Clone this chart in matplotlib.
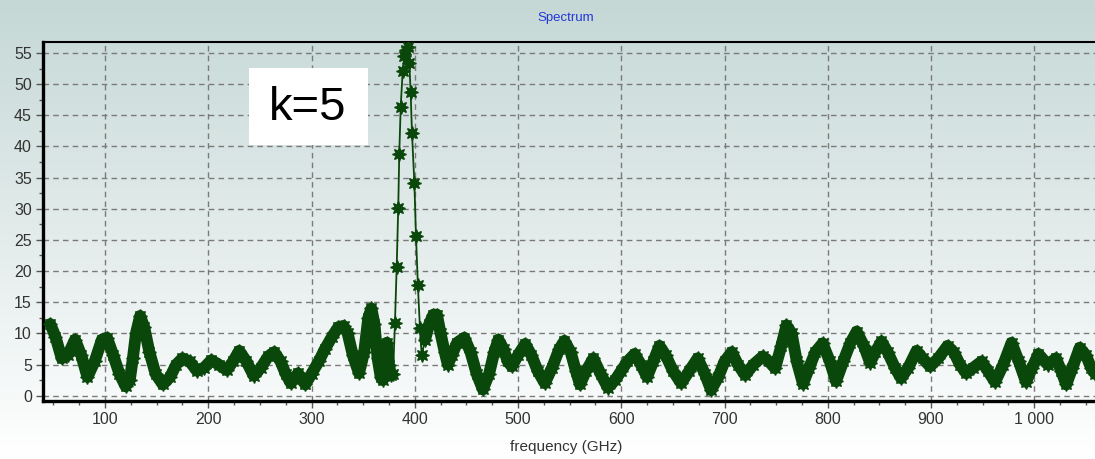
import numpy as np
import matplotlib as mpl
mpl.use('Agg')
import matplotlib.pyplot as plt
from matplotlib.patches import Rectangle
from matplotlib.ticker import MultipleLocator, FuncFormatter

# spectrum values (frequency in GHz, amplitude)
freq = [47, 52, 58, 64, 71, 77, 83, 90, 97, 102, 108, 114, 120, 124, 127, 130, 134, 138, 143, 149,
        156, 163, 169, 175, 182, 189, 196, 203, 210, 218, 224, 230, 237, 244, 251, 258, 264, 270, 275, 280,
        287, 294, 300, 307, 313, 320, 326, 331, 335, 340, 346, 351, 355, 358, 361, 364, 367, 369, 371, 373,
        375, 377, 379, 380.8, 382.5, 384, 385, 386.4, 388.3, 390, 391.5, 393.8, 394.7, 396, 397.3, 399.6,
        401.2, 403, 405, 406.7, 410, 414, 418, 421.5, 425, 429, 432, 436, 441, 448, 454, 460, 466, 472,
        477, 481, 486, 490, 494, 500, 507, 513, 519, 526, 533, 540, 545, 551, 556, 560, 566, 573, 580, 587,
        594, 600, 606, 613, 619, 625, 631, 637, 643, 650, 658, 666, 674, 681, 687, 694, 700, 707, 713, 720,
        728, 737, 743, 749, 755, 760, 765, 770, 776, 782, 788, 795, 802, 808, 815, 822, 828, 835, 841, 846,
        852, 858, 865, 871, 878, 886, 892, 899, 907, 916, 922, 928, 934, 941, 949, 955, 962, 970, 978, 985,
        992, 998, 1004, 1013, 1021, 1026, 1031, 1037, 1044, 1050, 1055, 1059]
amp = [11.5, 9.5, 6.0, 6.5, 9.0, 6.5, 3.0, 5.5, 9.0, 9.3, 6.5, 3.5, 1.5, 2.5, 6.0, 10.0, 12.8, 11.0, 7.0, 3.5,
       1.8, 3.0, 5.0, 6.0, 5.5, 4.0, 4.5, 5.7, 5.0, 4.1, 5.5, 7.2, 5.5, 3.2, 4.5, 6.3, 7.0, 5.5, 3.5, 2.0,
       3.6, 1.8, 3.5, 5.5, 7.5, 9.5, 11.0, 11.2, 10.0, 6.5, 3.6, 7.0, 12.5, 14.0, 11.5, 6.0, 3.0, 2.5, 6.5, 8.5,
       5.0, 3.3, 3.5, 11.6, 20.7, 30.1, 38.8, 46.4, 52.1, 54.5, 55.5, 56.0, 53.4, 48.8, 42.2, 34.2,
       25.6, 17.8, 10.9, 6.5, 9.0, 11.5, 13.0, 13.0, 10.0, 7.0, 5.0, 6.5, 8.5, 9.3, 7.0, 3.5, 1.0, 3.5,
       7.0, 9.0, 7.5, 5.5, 4.7, 6.5, 8.3, 6.5, 4.0, 2.0, 4.5, 7.5, 8.8, 7.0, 4.0, 1.8, 4.0, 6.0, 3.5, 1.3,
       2.5, 4.0, 5.5, 6.7, 5.0, 3.0, 5.5, 8.0, 6.5, 4.0, 2.0, 4.0, 6.0, 3.5, 0.9, 3.0, 5.5, 7.0, 5.0, 3.3,
       5.0, 6.3, 5.5, 4.4, 8.0, 11.3, 10.0, 5.5, 1.9, 4.5, 7.0, 8.4, 5.5, 2.3, 5.5, 8.5, 10.3, 8.0, 5.3, 7.0,
       8.7, 7.0, 4.5, 2.8, 4.5, 7.2, 6.0, 4.7, 6.0, 8.0, 7.0, 5.0, 3.6, 4.5, 5.5, 4.0, 2.2, 5.0, 8.5, 5.5,
       2.2, 4.5, 6.7, 5.0, 6.0, 4.0, 1.8, 4.5, 7.7, 6.5, 4.5, 3.5]

x_ticks = [100, 200, 300, 400, 500, 600, 700, 800, 900, 1000]
y_ticks = [0, 5, 10, 15, 20, 25, 30, 35, 40, 45, 50, 55]

green = '#0a470a'
W, H = 1095, 459
fig = plt.figure(figsize=(10.95, 4.59), dpi=100)

# background gradient over the whole picture
bg = fig.add_axes([0, 0, 1, 1], zorder=-10)
t = np.linspace(0, 1, 256)[:, None]
top = np.array([197, 216, 214]) / 255
bot = np.array([255, 255, 255]) / 255
grad = (top * (1 - t) + bot * t)[:, None, :].repeat(2, axis=1)
bg.imshow(grad, aspect='auto', extent=[0, 1, 0, 1])
bg.axis('off')

ax = fig.add_axes([43 / W, (H - 400.7) / H, 1 - 43 / W, (400.7 - 41.7) / H])
ax.set_facecolor('none')

f = np.array(freq, dtype=float)
a = np.array(amp, dtype=float)
# thick band where the samples are so dense they merge
band = np.where((f > 378) & (f < 409), np.nan, a)
ax.plot(f, band, color=green, lw=8.5, solid_joinstyle='round', solid_capstyle='round', zorder=3)
ax.plot(f, a, color=green, lw=1.3, marker=(8, 1, 0), ms=10, mfc=green, mec=green, zorder=4)

ax.set_xlim(39.96, 1058.8)
ax.set_ylim(-0.8, 56.8)
ax.set_xticks(x_ticks)
ax.set_yticks(y_ticks)
ax.xaxis.set_minor_locator(MultipleLocator(25))
ax.yaxis.set_minor_locator(MultipleLocator(2.5))
ax.xaxis.set_major_formatter(FuncFormatter(lambda v, p: f'{int(v):,}'.replace(',', ' ')))
ax.grid(True, which='major', color='#7a7a7a', linestyle=(0, (4, 3)), linewidth=1)

for lab in ax.get_xticklabels() + ax.get_yticklabels():
    lab.set_fontfamily('Liberation Sans')
    lab.set_fontsize(11.5)
    lab.set_color('#333333')
ax.tick_params(which='major', length=5, width=1, color='#555555', pad=3)
ax.tick_params(which='minor', length=3, width=1, color='#555555')

ax.spines['right'].set_visible(False)
ax.spines['left'].set_linewidth(2.4)
ax.spines['bottom'].set_linewidth(2.4)
ax.spines['top'].set_linewidth(1.5)
for s in ['left', 'bottom', 'top']:
    ax.spines[s].set_color('black')

fig.text(566 / W, 1 - 18 / H, 'Spectrum', color='#2336d6', fontsize=9.5,
         family='Liberation Sans', ha='center', va='center')
fig.text(566 / W, 1 - 447 / H, 'frequency (GHz)', color='#333333', fontsize=11,
         family='Liberation Sans', ha='center', va='center')

# white label box
fig.patches.append(Rectangle((249 / W, 1 - 145 / H), 119 / W, 77 / H, transform=fig.transFigure,
                             facecolor='white', edgecolor='none', zorder=5))
fig.text(308 / W, 1 - 108 / H, 'k=5', color='black', fontsize=34, family='Liberation Sans',
         ha='center', va='center', zorder=6)

fig.savefig('out.png', dpi=100)
